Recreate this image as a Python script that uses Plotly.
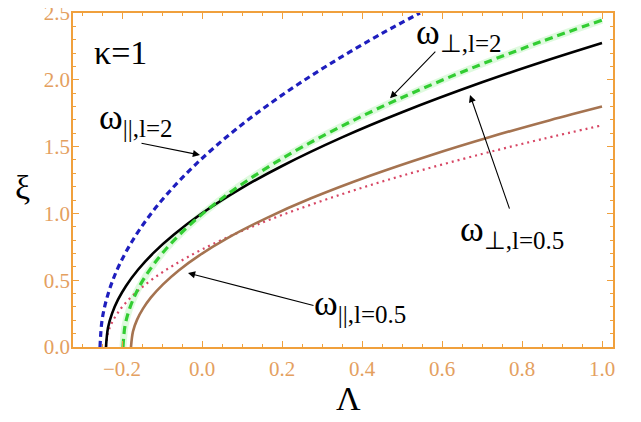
import plotly.graph_objects as go

# Data
lam_blue = [-0.255, -0.25, -0.24, -0.225, -0.205, -0.175, -0.135, -0.085, -0.015, 0.085, 0.2, 0.32, 0.45, 0.545]
xi_blue = [0.0, 0.198, 0.342, 0.484, 0.625, 0.790, 0.968, 1.152, 1.369, 1.630, 1.885, 2.119, 2.347, 2.500]

lam_green = [-0.1975, -0.1925, -0.1825, -0.1675, -0.1475, -0.1175, -0.0775, -0.0275, 0.0425, 0.1425, 0.2525, 0.4, 0.55, 0.7, 0.85, 1.0]
xi_green = [0.0, 0.158, 0.274, 0.387, 0.500, 0.632, 0.775, 0.922, 1.095, 1.304, 1.500, 1.728, 1.933, 2.118, 2.288, 2.447]

lam_black = [-0.24, -0.235, -0.225, -0.21, -0.19, -0.16, -0.12, -0.07, 0.0, 0.1, 0.2, 0.35, 0.5, 0.7, 0.85, 1.0]
xi_black = [0.0, 0.144, 0.250, 0.354, 0.457, 0.578, 0.708, 0.842, 1.001, 1.191, 1.355, 1.569, 1.757, 1.981, 2.133, 2.275]

lam_red = [-0.24, -0.235, -0.225, -0.21, -0.19, -0.16, -0.12, -0.07, 0.0, 0.1, 0.2, 0.35, 0.5, 0.7, 0.85, 1.0]
xi_red = [0.0, 0.105, 0.183, 0.258, 0.333, 0.421, 0.516, 0.614, 0.730, 0.869, 0.988, 1.144, 1.282, 1.445, 1.556, 1.659]

lam_brown = [-0.1775, -0.1725, -0.1625, -0.1475, -0.1275, -0.0975, -0.0575, -0.0075, 0.0625, 0.1625, 0.2725, 0.42, 0.57, 0.72, 0.87, 1.0]
xi_brown = [0.0, 0.117, 0.203, 0.287, 0.371, 0.469, 0.575, 0.684, 0.813, 0.967, 1.113, 1.282, 1.434, 1.572, 1.698, 1.800]

x_ticks = [-0.2, 0.0, 0.2, 0.4, 0.6, 0.8, 1.0]
x_ticklabels = ["\u22120.2", "0.0", "0.2", "0.4", "0.6", "0.8", "1.0"]
y_ticks = [0.0, 0.5, 1.0, 1.5, 2.0, 2.5]
y_ticklabels = ["0.0", "0.5", "1.0", "1.5", "2.0", "2.5"]

ORANGE = "rgb(240,160,60)"
TICKLBL = "rgb(228,160,95)"
SERIF = "Liberation Serif, Times New Roman, serif"

fig = go.Figure()

# faint glow under the green dashed curve
fig.add_trace(go.Scatter(x=lam_green, y=xi_green, mode="lines", line_shape="spline",
                         line=dict(color="rgba(150,240,150,0.30)", width=7), hoverinfo="skip"))
fig.add_trace(go.Scatter(x=lam_red, y=xi_red, mode="lines", line_shape="spline",
                         line=dict(color="rgb(215,70,100)", width=2.2, dash="2px,4px")))
fig.add_trace(go.Scatter(x=lam_brown, y=xi_brown, mode="lines", line_shape="spline",
                         line=dict(color="rgb(165,115,80)", width=2.6)))
fig.add_trace(go.Scatter(x=lam_black, y=xi_black, mode="lines", line_shape="spline",
                         line=dict(color="black", width=2.6)))
fig.add_trace(go.Scatter(x=lam_green, y=xi_green, mode="lines", line_shape="spline",
                         line=dict(color="rgb(50,205,50)", width=3.2, dash="8px,5px")))
fig.add_trace(go.Scatter(x=lam_blue, y=xi_blue, mode="lines", line_shape="spline",
                         line=dict(color="rgb(30,30,190)", width=3.2, dash="6px,4px")))


def omega(sub):
    return "\u03c9<sub><span style='font-size:25px'>" + sub + "</span></sub>"


ann = []
txt_font = dict(family=SERIF, size=36, color="black")
ann.append(dict(x=-0.205, y=2.208, xref="x", yref="y", text="\u03ba=1", showarrow=False,
                font=dict(family=SERIF, size=34, color="black")))
ann.append(dict(x=-0.165, y=1.70, xref="x", yref="y", text=omega("||,l=2"), showarrow=False, font=txt_font))
ann.append(dict(x=0.6425, y=2.337, xref="x", yref="y", text=omega("\u22a5,l=2"), showarrow=False, font=txt_font))
ann.append(dict(x=0.775, y=0.865, xref="x", yref="y", text=omega("\u22a5,l=0.5"), showarrow=False, font=txt_font))
ann.append(dict(x=0.395, y=0.31, xref="x", yref="y", text=omega("||,l=0.5"), showarrow=False, font=txt_font))

arrows = [
    ((-0.005, 1.437), (-0.155, 1.527)),
    ((0.47, 1.861), (0.587, 2.223)),
    ((0.67, 1.886), (0.77, 1.025)),
    ((-0.035, 0.554), (0.2825, 0.307)),
]
for (hx, hy), (tx, ty) in arrows:
    ann.append(dict(x=hx, y=hy, ax=tx, ay=ty, xref="x", yref="y", axref="x", ayref="y",
                    text="", showarrow=True, arrowhead=2, arrowsize=1.3, arrowwidth=1.1,
                    arrowcolor="black"))

ann.append(dict(x=0.511, y=-0.216, xref="paper", yref="paper", text="\u039b", showarrow=False,
                font=dict(family=SERIF, size=34, color="black")))
ann.append(dict(x=-0.111, y=0.479, xref="paper", yref="paper", text="\u03be", showarrow=False,
                font=dict(family=SERIF, size=34, color="black")))

axis_common = dict(showline=True, linecolor=ORANGE, linewidth=1.5, mirror="allticks",
                   ticks="inside", ticklen=6, tickcolor=ORANGE, tickwidth=1,
                   showgrid=False, zeroline=False, automargin=False,
                   ticklabeloverflow="allow",
                   tickfont=dict(family=SERIF, size=21, color=TICKLBL))

# page body adds an 8px offset; the figure is sized so the plot area lands at
# x 73..613, y 13..347 in the window
fig.update_layout(
    width=633, height=414,
    margin=dict(l=65, r=28, t=5, b=75, autoexpand=False),
    paper_bgcolor="white", plot_bgcolor="white",
    showlegend=False,
    annotations=ann,
    xaxis=dict(range=[-0.3225, 1.0275], tickvals=x_ticks, ticktext=x_ticklabels,
               minor=dict(dtick=0.05, tick0=0, ticks="inside", ticklen=3, tickcolor=ORANGE, showgrid=False),
               **axis_common),
    yaxis=dict(range=[0, 2.5], tickvals=y_ticks, ticktext=y_ticklabels,
               minor=dict(dtick=0.1, tick0=0, ticks="inside", ticklen=3, tickcolor=ORANGE, showgrid=False),
               **axis_common),
)

try:
    fig.update_xaxes(ticklabelstandoff=2)
    fig.update_yaxes(ticklabelstandoff=-3)
except Exception:
    pass

fig.write_html("out.html")
